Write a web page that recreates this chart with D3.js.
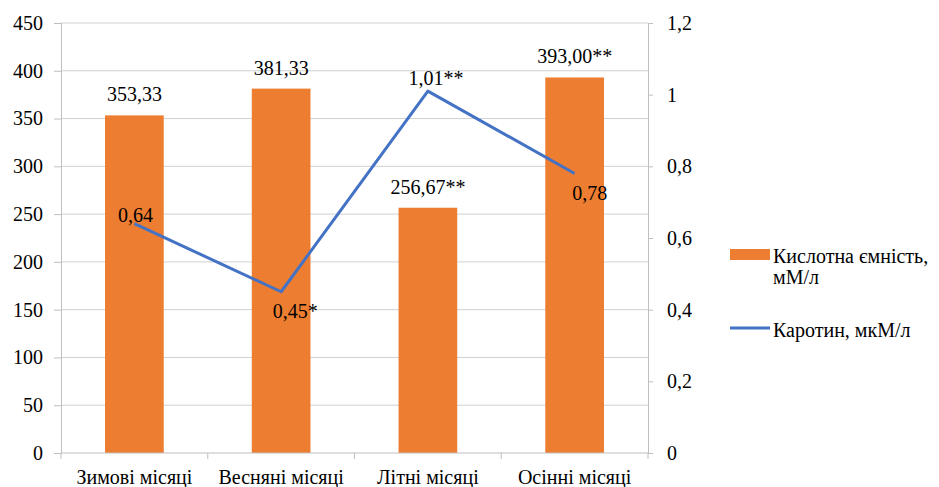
<!DOCTYPE html>
<html>
<head>
<meta charset="utf-8">
<script src="https://cdn.jsdelivr.net/npm/d3@7"></script>
</head>
<body style="margin:0;background:#fff">
<svg id="chart" width="939" height="487" style="display:block"></svg>
<script>
// Seasons along the x axis
const categories = ["Зимові місяці", "Весняні місяці", "Літні місяці", "Осінні місяці"];
// Acid capacity, mM/l (bars, left axis)
const acidValues = [353.33, 381.33, 256.67, 393.00];
const acidMarks = ["", "", "**", "**"];
// Carotene, µM/l (line, right axis)
const caroteneValues = [0.64, 0.45, 1.01, 0.78];
const caroteneMarks = ["", "*", "**", ""];
// Axis ticks
const leftTicks = [0, 50, 100, 150, 200, 250, 300, 350, 400, 450];
const rightTicks = [0, 0.2, 0.4, 0.6, 0.8, 1, 1.2];
// Series names
const seriesNames = ["Кислотна ємність,\nмМ/л", "Каротин, мкМ/л"];

// Hand-placed offsets of the line value labels (dx, dy from the point)
const lineLabelOffsets = [[1, -2], [14, 26], [8, -6], [15, 26]];

const comma = v => String(v).replace(".", ",");
const fmt2 = v => v.toFixed(2).replace(".", ",");

const svg = d3.select("#chart");
const plot = { left: 61, right: 648, top: 23, bottom: 453 };
const FONT = "20px";
const FAMILY = '"Liberation Serif"';
const orange = "#ED7D31", blue = "#4472C4";

// Applies the chart's text style to each text element and resolves it right away
const textStyle = sel => sel.each(function () {
  this.style.fontFamily = FAMILY;
  this.style.fontSize = FONT;
  getComputedStyle(this).fontFamily;
});

const x = d3.scaleBand().domain(categories)
  .range([plot.left, plot.right]).paddingInner(0.6).paddingOuter(0.3);
const step = x.step();
const yL = d3.scaleLinear().domain([0, 450]).range([plot.bottom, plot.top]);
const yR = d3.scaleLinear().domain([0, 1.2]).range([plot.bottom, plot.top]);

// Horizontal gridlines
svg.append("g").selectAll("line").data(leftTicks.filter(d => d > 0)).join("line")
  .attr("x1", plot.left).attr("x2", plot.right)
  .attr("y1", d => yL(d)).attr("y2", d => yL(d))
  .attr("stroke", "#d0d0d0").attr("stroke-width", 1);

// Left axis
const leftAxis = d3.axisLeft(yL).tickValues(leftTicks).tickSize(7).tickPadding(11)
  .tickFormat(d => d);
const gL = svg.append("g").attr("transform", `translate(${plot.left},0)`).call(leftAxis)
  .attr("font-family", null).attr("font-size", null);
gL.select(".domain").attr("stroke", "#bfbfbf");
gL.selectAll(".tick line").attr("stroke", "#bfbfbf");
gL.selectAll(".tick text").call(textStyle);

// Right axis
const rightAxis = d3.axisRight(yR).tickValues(rightTicks).tickSize(5).tickPadding(14)
  .tickFormat(d => comma(+d.toFixed(1)));
const gR = svg.append("g").attr("transform", `translate(${plot.right},0)`).call(rightAxis)
  .attr("font-family", null).attr("font-size", null);
gR.select(".domain").attr("stroke", "#bfbfbf");
gR.selectAll(".tick line").attr("stroke", "#bfbfbf");
gR.selectAll(".tick text").call(textStyle);

// Bars
svg.append("g").selectAll("rect").data(acidValues).join("rect")
  .attr("x", (d, i) => x(categories[i]))
  .attr("width", x.bandwidth())
  .attr("y", d => yL(d))
  .attr("height", d => yL(0) - yL(d))
  .attr("fill", orange);

// Bottom axis line and category boundary ticks
svg.append("line")
  .attr("x1", plot.left).attr("x2", plot.right)
  .attr("y1", plot.bottom).attr("y2", plot.bottom)
  .attr("stroke", "#bfbfbf");
const boundaries = d3.range(categories.length + 1).map(i => plot.left + i * step);
svg.append("g").selectAll("line").data(boundaries).join("line")
  .attr("x1", d => d).attr("x2", d => d)
  .attr("y1", plot.bottom).attr("y2", plot.bottom + 6)
  .attr("stroke", "#bfbfbf");
svg.append("g").selectAll("text").data(categories).join("text")
  .attr("x", d => x(d) + x.bandwidth() / 2)
  .attr("y", 484)
  .attr("text-anchor", "middle")
  .text(d => d)
  .call(textStyle);

// Bar value labels
svg.append("g").selectAll("text").data(acidValues).join("text")
  .attr("x", (d, i) => x(categories[i]) + x.bandwidth() / 2)
  .attr("y", d => yL(d) - 14)
  .attr("text-anchor", "middle")
  .text((d, i) => fmt2(d) + acidMarks[i])
  .call(textStyle);

// Carotene line
const cx = i => x(categories[i]) + x.bandwidth() / 2;
const line = d3.line().x((d, i) => cx(i)).y(d => yR(d));
svg.append("path").datum(caroteneValues)
  .attr("d", line)
  .attr("fill", "none")
  .attr("stroke", blue)
  .attr("stroke-width", 3)
  .attr("stroke-linejoin", "round");

// Line value labels
svg.append("g").selectAll("text").data(caroteneValues).join("text")
  .attr("x", (d, i) => cx(i) + lineLabelOffsets[i][0])
  .attr("y", (d, i) => yR(d) + lineLabelOffsets[i][1])
  .attr("text-anchor", "middle")
  .text((d, i) => fmt2(d) + caroteneMarks[i])
  .call(textStyle);

// Legend
const lg = svg.append("g");
lg.append("rect").attr("x", 730).attr("y", 249).attr("width", 40).attr("height", 11)
  .attr("fill", orange);
const t1 = lg.append("text").attr("x", 773).attr("y", 263);
seriesNames[0].split("\n").forEach((s, i) => {
  t1.append("tspan").attr("x", 773).attr("dy", i === 0 ? 0 : 21).text(s);
});
t1.call(textStyle);
lg.append("line").attr("x1", 730).attr("x2", 770).attr("y1", 328).attr("y2", 328)
  .attr("stroke", blue).attr("stroke-width", 3);
lg.append("text").attr("x", 773).attr("y", 337)
  .text(seriesNames[1])
  .call(textStyle);
</script>
</body>
</html>
